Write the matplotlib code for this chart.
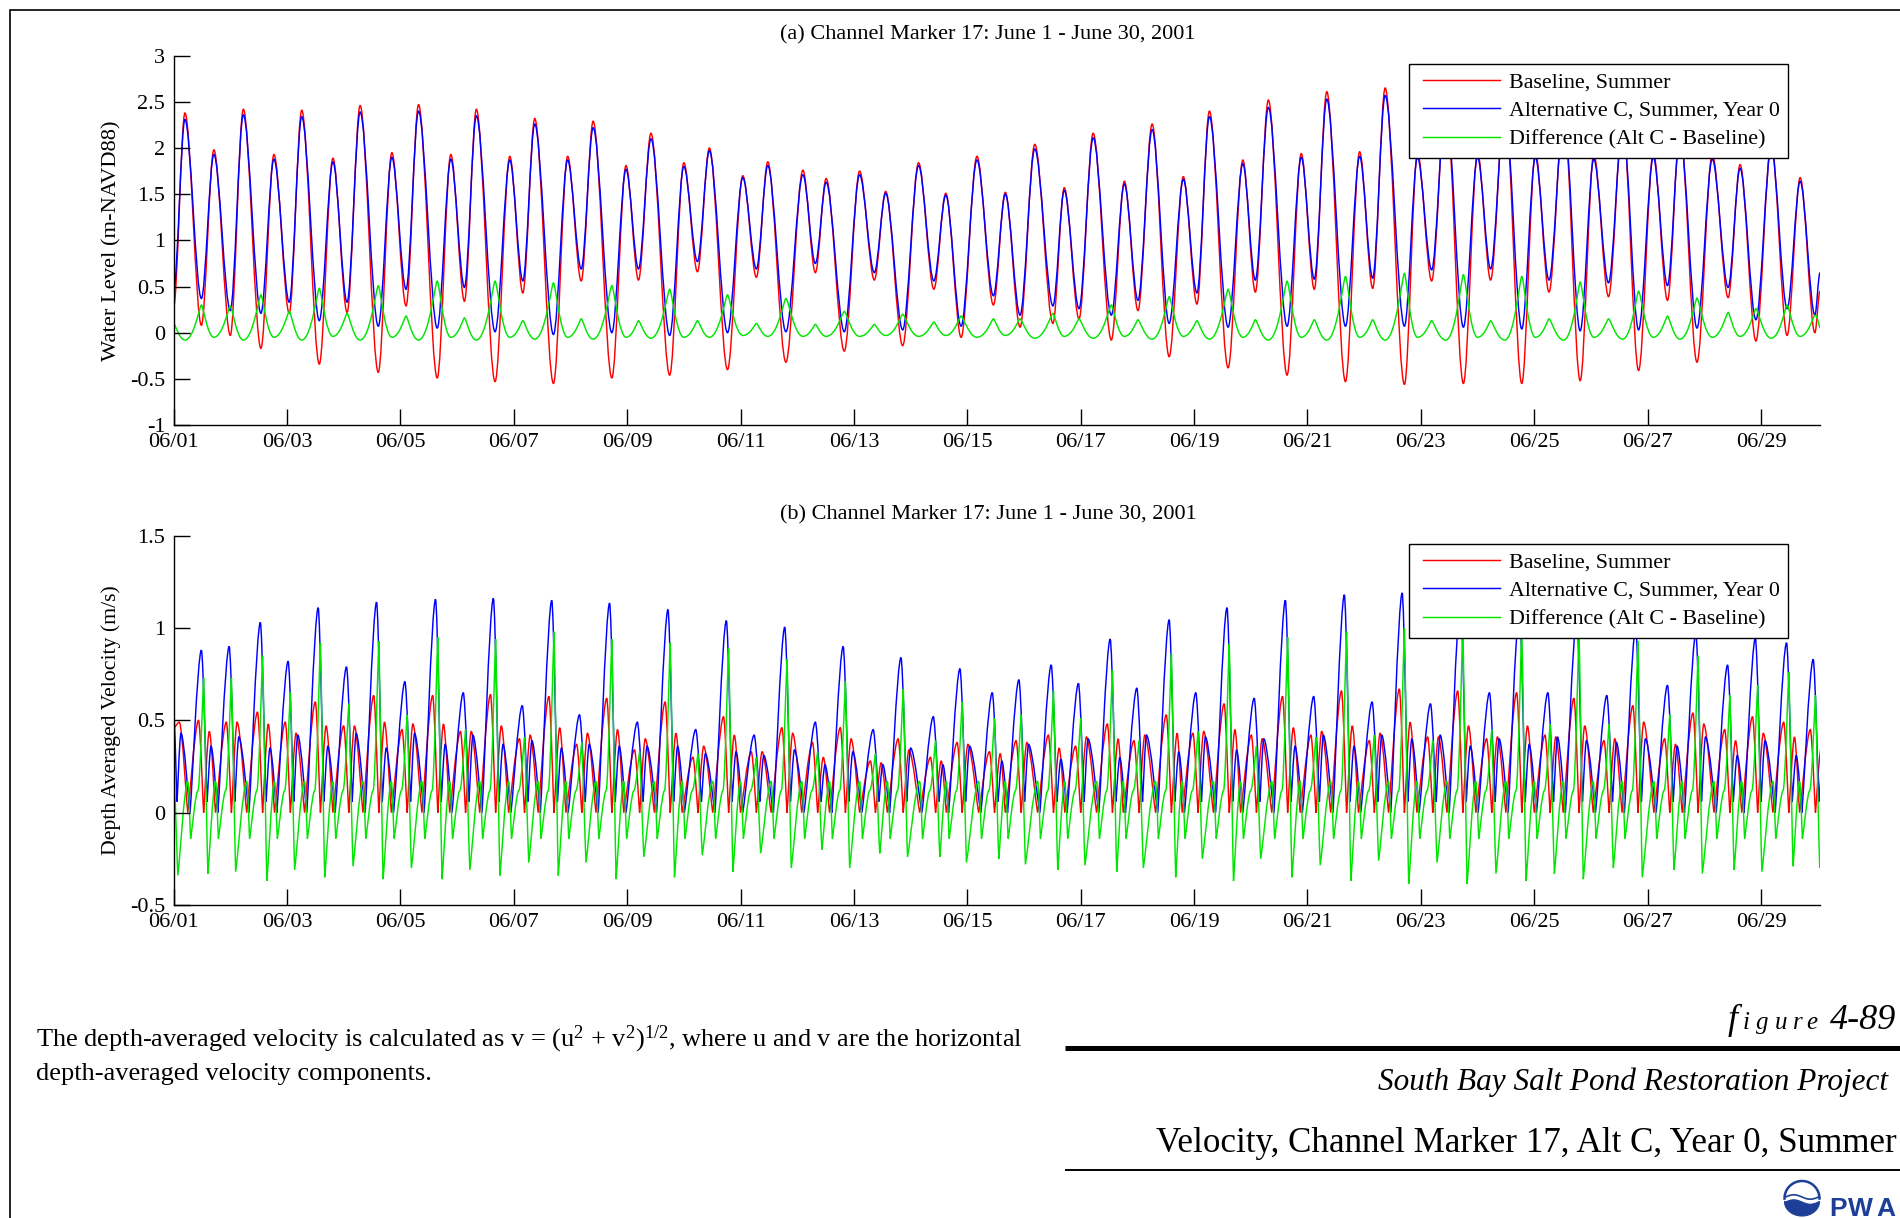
import numpy as np
import matplotlib
matplotlib.use("Agg")
import matplotlib.pyplot as plt
from matplotlib.path import Path
from matplotlib.patches import PathPatch, Polygon
from matplotlib.lines import Line2D
from matplotlib.legend_handler import HandlerLine2D

plt.rcParams['font.family'] = ['Liberation Serif', 'DejaVu Serif']
plt.rcParams['mathtext.fontset'] = 'custom'
plt.rcParams['mathtext.rm'] = 'Liberation Serif'
plt.rcParams['mathtext.it'] = 'Liberation Serif:italic'

# ---------------------------------------------------------------- data
# water level turning points (days after 06/01 00:00)
tide_t = [0.00, 0.20, 0.49, 0.71, 1.00, 1.23, 1.54, 1.77, 2.04, 2.26, 2.57, 2.81,
          3.06, 3.29, 3.61, 3.85, 4.10, 4.32, 4.65, 4.89, 5.13, 5.34, 5.67, 5.93,
          6.16, 6.37, 6.70, 6.95, 7.19, 7.40, 7.73, 7.98, 8.20, 8.42, 8.75, 9.00,
          9.24, 9.45, 9.77, 10.04, 10.28, 10.48, 10.80, 11.10, 11.32, 11.51, 11.83,
          12.10, 12.36, 12.56, 12.86, 13.14, 13.41, 13.62, 13.89, 14.17, 14.46,
          14.67, 14.93, 15.19, 15.51, 15.71, 15.97, 16.22, 16.54, 16.77, 17.01,
          17.26, 17.56, 17.81, 18.05, 18.27, 18.60, 18.86, 19.08, 19.31, 19.64,
          19.89, 20.12, 20.34, 20.67, 20.92, 21.15, 21.37, 21.71, 21.94, 22.19,
          22.44, 22.75, 23.00, 23.23, 23.48, 23.78, 24.02, 24.26, 24.52, 24.81,
          25.05, 25.31, 25.56, 25.84, 26.10, 26.35, 26.57, 26.87, 27.14, 27.42,
          27.63, 27.91, 28.18, 28.46, 28.69, 28.95, 29.04]
level_base = [0.28, 2.38, 0.08, 1.98, -0.03, 2.42, -0.17, 1.93, 0.21, 2.41, -0.34, 1.89,
              0.22, 2.46, -0.43, 1.95, 0.29, 2.47, -0.49, 1.93, 0.34, 2.42, -0.53, 1.91,
              0.43, 2.32, -0.55, 1.91, 0.56, 2.29, -0.49, 1.81, 0.57, 2.16, -0.46, 1.84,
              0.66, 2.00, -0.40, 1.70, 0.60, 1.85, -0.32, 1.76, 0.65, 1.67, -0.20,
              1.75, 0.57, 1.53, -0.14, 1.84, 0.47, 1.51, -0.05, 1.91, 0.30,
              1.52, 0.06, 2.04, 0.10, 1.57, 0.15, 2.16, -0.08, 1.64, 0.24,
              2.26, -0.26, 1.69, 0.31, 2.40, -0.38, 1.87, 0.44, 2.52, -0.46,
              1.94, 0.47, 2.61, -0.53, 1.96, 0.48, 2.65, -0.56, 1.95, 0.56,
              2.55, -0.55, 1.95, 0.57, 2.50, -0.55, 1.95, 0.44, 2.40, -0.52,
              1.93, 0.39, 2.30, -0.41, 1.95, 0.35, 2.20, -0.32, 1.93, 0.38,
              1.82, -0.09, 2.05, -0.03, 1.68, 0.00, 0.45]
level_altc = [0.45, 2.31, 0.37, 1.93, 0.24, 2.36, 0.21, 1.88, 0.33, 2.34, 0.13, 1.85,
              0.33, 2.39, 0.07, 1.90, 0.47, 2.40, 0.05, 1.88, 0.49, 2.35, 0.01, 1.87,
              0.56, 2.26, -0.02, 1.87, 0.69, 2.22, 0.00, 1.77, 0.69, 2.10, -0.03, 1.80,
              0.77, 1.97, 0.00, 1.68, 0.69, 1.81, 0.01, 1.71, 0.75, 1.63, 0.01,
              1.71, 0.65, 1.51, 0.03, 1.81, 0.56, 1.49, 0.07, 1.87, 0.40,
              1.50, 0.19, 1.99, 0.29, 1.54, 0.26, 2.11, 0.19, 1.61, 0.35,
              2.20, 0.10, 1.66, 0.43, 2.34, 0.06, 1.83, 0.57, 2.44, 0.07,
              1.90, 0.58, 2.53, 0.07, 1.91, 0.59, 2.57, 0.07, 1.90, 0.68,
              2.48, 0.06, 1.90, 0.69, 2.43, 0.04, 1.90, 0.57, 2.33, 0.02,
              1.88, 0.54, 2.24, 0.03, 1.90, 0.51, 2.15, 0.05, 1.88, 0.49,
              1.78, 0.14, 2.00, 0.26, 1.64, 0.19, 0.65]
level_diff = [0.10, -0.08, 0.30, -0.05, 0.29, -0.08, 0.41, -0.05, 0.23, -0.08, 0.48, -0.04,
              0.21, -0.08, 0.51, -0.05, 0.18, -0.08, 0.56, -0.05, 0.16, -0.08, 0.56, -0.05,
              0.13, -0.07, 0.54, -0.05, 0.15, -0.07, 0.51, -0.05, 0.13, -0.06, 0.47, -0.05,
              0.13, -0.05, 0.41, -0.03, 0.10, -0.04, 0.37, -0.04, 0.09, -0.04, 0.23,
              -0.04, 0.09, -0.03, 0.20, -0.04, 0.115, -0.03, 0.18, -0.05, 0.15,
              -0.03, 0.15, -0.06, 0.21, -0.04, 0.15, -0.06, 0.30, -0.04, 0.14,
              -0.07, 0.39, -0.04, 0.13, -0.07, 0.47, -0.05, 0.14, -0.08, 0.56,
              -0.05, 0.14, -0.08, 0.61, -0.05, 0.14, -0.08, 0.645, -0.05, 0.13,
              -0.08, 0.63, -0.05, 0.13, -0.08, 0.61, -0.05, 0.15, -0.08, 0.55,
              -0.05, 0.15, -0.07, 0.45, -0.05, 0.18, -0.07, 0.375, -0.05, 0.22,
              -0.04, 0.26, -0.06, 0.30, -0.04, 0.19, 0.05]

# velocity: one entry per tidal cycle, keyed on the main Alt C speed peak
vel_t = [-0.04, 0.49, 0.98, 1.53, 2.02, 2.55, 3.05, 3.58, 4.08, 4.62, 5.11, 5.64, 6.15,
         6.67, 7.16, 7.69, 8.18, 8.72, 9.21, 9.75, 10.24, 10.78, 11.32, 11.81, 12.34,
         12.83, 13.40, 13.87, 14.44, 14.91, 15.48, 15.96, 16.52, 16.99, 17.56, 18.03,
         18.58, 19.06, 19.61, 20.11, 20.65, 21.14, 21.67, 22.17, 22.70, 23.21, 23.74,
         24.24, 24.75, 25.28, 25.79, 26.35, 26.85, 27.41, 27.90, 28.45, 28.92]
altc_peak = [0.60, 0.88, 0.90, 1.03, 0.82, 1.11, 0.79, 1.14, 0.71, 1.155, 0.65, 1.16, 0.58,
             1.15, 0.53, 1.135, 0.49, 1.10, 0.45, 1.04, 0.42, 1.005, 0.49, 0.90, 0.45,
             0.84, 0.52, 0.78, 0.65, 0.72, 0.80, 0.70, 0.94, 0.675, 1.045, 0.65, 1.11,
             0.62, 1.15, 0.63, 1.18, 0.60, 1.19, 0.59, 1.15, 0.65, 1.10, 0.65, 1.05,
             0.635, 1.00, 0.69, 0.97, 0.80, 0.945, 0.92, 0.83]
altc_hump = [0.43, 0.36, 0.41, 0.35, 0.42, 0.36, 0.43, 0.35, 0.43, 0.37, 0.42, 0.37, 0.39,
             0.35, 0.37, 0.36, 0.36, 0.36, 0.32, 0.33, 0.31, 0.34, 0.26, 0.33, 0.26,
             0.35, 0.26, 0.36, 0.28, 0.37, 0.29, 0.40, 0.30, 0.42, 0.33, 0.41, 0.34,
             0.40, 0.36, 0.42, 0.36, 0.42, 0.40, 0.42, 0.36, 0.40, 0.37, 0.41, 0.39,
             0.38, 0.40, 0.36, 0.41, 0.31, 0.39, 0.31, 0.30]
base_peak = [0.45, 0.50, 0.49, 0.545, 0.49, 0.60, 0.47, 0.635, 0.45, 0.635, 0.44, 0.64,
             0.40, 0.63, 0.37, 0.62, 0.34, 0.60, 0.30, 0.52, 0.33, 0.46, 0.38, 0.46,
             0.28, 0.40, 0.30, 0.38, 0.33, 0.39, 0.42, 0.36, 0.48, 0.39, 0.53, 0.43,
             0.59, 0.42, 0.63, 0.42, 0.66, 0.39, 0.67, 0.41, 0.66, 0.40, 0.65, 0.42,
             0.62, 0.39, 0.58, 0.40, 0.54, 0.45, 0.52, 0.49, 0.45]
base_second = [0.49, 0.44, 0.49, 0.48, 0.43, 0.47, 0.47, 0.49, 0.48, 0.48, 0.44, 0.47,
               0.42, 0.46, 0.43, 0.45, 0.40, 0.43, 0.36, 0.42, 0.33, 0.43, 0.30, 0.40,
               0.27, 0.34, 0.28, 0.37, 0.32, 0.38, 0.35, 0.41, 0.40, 0.42, 0.43, 0.44,
               0.45, 0.40, 0.46, 0.44, 0.47, 0.43, 0.49, 0.41, 0.47, 0.41, 0.47, 0.41,
               0.47, 0.40, 0.49, 0.37, 0.48, 0.39, 0.43, 0.41, 0.35]
diff_peak = [0.20, 0.73, 0.73, 0.85, 0.65, 0.92, 0.59, 0.93, 0.53, 0.95, 0.45, 0.94, 0.41,
             0.98, 0.38, 0.94, 0.33, 0.92, 0.32, 0.89, 0.30, 0.83, 0.33, 0.71, 0.32,
             0.67, 0.39, 0.60, 0.51, 0.53, 0.66, 0.51, 0.77, 0.39, 0.86, 0.44, 0.915,
             0.36, 0.95, 0.41, 0.98, 0.42, 1.00, 0.39, 1.00, 0.45, 1.00, 0.48, 0.97,
             0.48, 0.93, 0.53, 0.85, 0.635, 0.69, 0.76, 0.635]
diff_dip = [-0.34, -0.33, -0.32, -0.37, -0.31, -0.35, -0.29, -0.36, -0.30, -0.36, -0.31,
            -0.34, -0.27, -0.34, -0.27, -0.36, -0.24, -0.35, -0.23, -0.32, -0.22, -0.30,
            -0.20, -0.30, -0.22, -0.24, -0.24, -0.27, -0.25, -0.28, -0.31, -0.285, -0.32,
            -0.30, -0.35, -0.25, -0.37, -0.25, -0.35, -0.285, -0.37, -0.26, -0.385,
            -0.27, -0.385, -0.33, -0.37, -0.33, -0.36, -0.30, -0.35, -0.31, -0.33,
            -0.31, -0.32, -0.29, -0.30]
vel_start = {'base': 0.46, 'altc': 0.54, 'diff': 0.19}

tick_days = list(range(0, 29, 2))
tick_labels = ['06/%02d' % (d + 1) for d in tick_days]
legend_labels = ['Baseline, Summer', 'Alternative C, Summer, Year 0',
                 'Difference (Alt C - Baseline)']
colors = {'base': '#ff0000', 'altc': '#0000ff', 'diff': '#00e600'}

# shape of one tidal cycle: (offset from the Alt C peak in days, value key, cusp?)
ALTC_SHAPE = [(-0.20, 'slack', True), (0.0, 'peak', False), (0.10, 'dip', True),
              (0.17, 'hump', False)]
BASE_SHAPE = [(-0.24, 'slack', True), (-0.05, 'peak', False), (0.04, 'slack', True),
              (0.14, 'second', False)]
DIFF_SHAPE = [(-0.24, 'bump', False), (-0.19, 'low', True), (-0.06, 'rise', False),
              (0.04, 'peak', True), (0.115, 'dip', True)]


def bezier_path(t, v, lead, trail):
    """Smooth curve through turning points with flat tangents at each point."""
    verts = [(t[0], v[0])]
    codes = [Path.MOVETO]
    for i in range(1, len(t)):
        dt = t[i] - t[i - 1]
        verts += [(t[i - 1] + lead[i] * dt, v[i - 1]),
                  (t[i] - trail[i] * dt, v[i]), (t[i], v[i])]
        codes += [Path.CURVE4] * 3
    return Path(verts, codes)


def draw_curve(ax, t, v, color, lead=None, trail=None):
    n = len(t)
    lead = np.full(n, 1 / 3) if lead is None else np.asarray(lead, float)
    trail = np.full(n, 1 / 3) if trail is None else np.asarray(trail, float)
    ax.add_patch(PathPatch(bezier_path(np.asarray(t, float), np.asarray(v, float),
                                       lead, trail),
                           facecolor='none', edgecolor=color, lw=1.05,
                           transform=ax.transData, clip_on=True))


def draw_cycles(ax, shape, values, start, color):
    pts = []
    for i, tc in enumerate(vel_t):
        for off, key, cusp in shape:
            val = values[key] if np.isscalar(values[key]) else values[key][i]
            pts.append((tc + off, val, cusp))
    pts = sorted(p for p in pts if 0.03 < p[0] <= 29.3)
    t = np.array([0.0] + [p[0] for p in pts])
    v = np.array([start] + [p[1] for p in pts])
    cusp = np.array([False] + [p[2] for p in pts])
    lead = np.where(np.roll(cusp, 1), 0.07, 1 / 3)
    trail = np.where(cusp, 0.07, 1 / 3)
    draw_curve(ax, t, v, color, lead, trail)


# ---------------------------------------------------------------- figure
W, H = 1900, 1218
fig = plt.figure(figsize=(W / 100, H / 100), dpi=100)


def frame(l, t, r, b):
    return [l / W, 1 - b / H, (r - l) / W, (b - t) / H]


ax1 = fig.add_axes(frame(173.6, 55.7, 1820, 425))
ax2 = fig.add_axes(frame(173.6, 535.7, 1820, 905))

for ax in (ax1, ax2):
    ax.set_xlim(0, 29.04)
    ax.set_xticks(tick_days)
    ax.set_xticklabels(tick_labels)
    for s in ('top', 'right'):
        ax.spines[s].set_visible(False)
    for s in ('left', 'bottom'):
        ax.spines[s].set_linewidth(1.0)
    ax.tick_params(direction='in', length=11.5, width=1.0, labelsize=16)
    ax.tick_params(axis='x', pad=6)
    ax.tick_params(axis='y', pad=6)

# (a) water level
ax1.set_ylim(-1, 3)
ax1.set_yticks([-1, -0.5, 0, 0.5, 1, 1.5, 2, 2.5, 3])
ax1.set_yticklabels(['-1', '-0.5', '0', '0.5', '1', '1.5', '2', '2.5', '3'])
draw_curve(ax1, tide_t, level_base, colors['base'])
draw_curve(ax1, tide_t, level_altc, colors['altc'])
rising = np.array(level_diff) > 0.0
draw_curve(ax1, tide_t, level_diff, colors['diff'],
           np.where(rising, 0.55, 0.14), np.where(rising, 0.1, 0.5))
ax1.set_ylabel('Water Level (m-NAVD88)', fontsize=16.2)
ax1.yaxis.set_label_coords(-0.0318, 0.5)

# (b) depth averaged velocity
ax2.set_ylim(-0.5, 1.5)
ax2.set_yticks([-0.5, 0, 0.5, 1, 1.5])
ax2.set_yticklabels(['-0.5', '0', '0.5', '1', '1.5'])
draw_cycles(ax2, BASE_SHAPE, {'slack': 0.0, 'peak': base_peak, 'second': base_second},
            vel_start['base'], colors['base'])
draw_cycles(ax2, ALTC_SHAPE, {'slack': 0.0, 'peak': altc_peak, 'dip': 0.06,
                              'hump': altc_hump}, vel_start['altc'], colors['altc'])
draw_cycles(ax2, DIFF_SHAPE, {'bump': 0.17, 'low': -0.14, 'rise': 0.12,
                              'peak': diff_peak, 'dip': diff_dip},
            vel_start['diff'], colors['diff'])
ax2.set_ylabel('Depth Averaged Velocity (m/s)', fontsize=15.7)
ax2.yaxis.set_label_coords(-0.0318, 0.5)

for ax in (ax1, ax2):
    handles = [Line2D([], [], color=colors[k], lw=1.05) for k in ('base', 'altc', 'diff')]
    leg = ax.legend(handles, legend_labels, loc='upper right',
                    bbox_to_anchor=(0.9806, 0.9775), borderaxespad=0, fontsize=15.8,
                    frameon=True, fancybox=False, framealpha=1, edgecolor='black',
                    numpoints=2, handler_map={Line2D: HandlerLine2D(marker_pad=0.27)},
                    handlelength=4.05, handletextpad=0.13, labelspacing=0.36,
                    borderpad=0.38)
    leg.get_frame().set_linewidth(1.0)

# ---------------------------------------------------------------- page furniture
ov = fig.add_axes([0, 0, 1, 1])
ov.set_xlim(0, W)
ov.set_ylim(H, 0)
ov.axis('off')

ov.plot([10, 10, W + 5], [H + 5, 10, 10], color='black', lw=1.2, solid_joinstyle='miter')

ov.text(988, 35, '(a) Channel Marker 17: June 1 - June 30, 2001', fontsize=16,
        ha='center', va='center')
ov.text(988, 514.5, '(b) Channel Marker 17: June 1 - June 30, 2001', fontsize=16,
        ha='center', va='center')

ov.text(36, 1046, 'The depth-averaged velocity is calculated as v = (u$^{2}$ + v$^{2}$)'
        '$^{1/2}$, where u and v are the horizontal', fontsize=19, ha='left',
        va='baseline')
ov.text(36, 1080, 'depth-averaged velocity components.', fontsize=19, ha='left',
        va='baseline')

ov.text(1728, 1029, 'f', fontsize=26, style='italic', ha='left', va='baseline')
for ch, x in zip('igure', [1743, 1756, 1774.5, 1793, 1806]):
    ov.text(x, 1029, ch, fontsize=18, style='italic', ha='left', va='baseline')
ov.text(1830, 1029, '4-89', fontsize=26, style='italic', ha='left', va='baseline')

ov.plot([1065, W + 5], [1048.2, 1048.2], color='black', lw=3.6, solid_capstyle='butt')
ov.text(1378, 1090, 'South Bay Salt Pond Restoration Project', fontsize=22.5,
        style='italic', ha='left', va='baseline')
ov.text(1156, 1151.5, 'Velocity, Channel Marker 17, Alt C, Year 0, Summer',
        fontsize=25.2, ha='left', va='baseline')
ov.plot([1065, W + 5], [1170, 1170], color='black', lw=1.4, solid_capstyle='butt')

# PWA mark
logo_blue = '#1d3f98'
cx, cy, r = 1802.0, 1198.5, 17.5
a = np.linspace(0, np.pi, 60)
ov.plot(cx + r * np.cos(a), cy - r * np.sin(a), color=logo_blue, lw=1.8)
xw = np.linspace(cx - r + 1, cx + r - 1, 40)
phase = (xw - xw[0]) / (xw[-1] - xw[0]) * 2 * np.pi
ov.plot(xw, cy - 1.5 - 2.2 * np.sin(phase), color=logo_blue, lw=1.2)
top = np.column_stack([xw, cy + 3.5 - 2.2 * np.sin(phase)])
ab = np.linspace(0, np.pi, 60)
bot = np.column_stack([cx + r * np.cos(ab), cy + 3.0 + (r - 3.0) * np.sin(ab)])
ov.add_patch(Polygon(np.vstack([top, bot]), closed=True, facecolor=logo_blue,
                     edgecolor=logo_blue, lw=0.8))
for ch, x in zip('PWA', [1829, 1848, 1876]):
    ov.text(x, 1216.5, ch, fontsize=19, fontweight='bold', family='Liberation Sans',
            color=logo_blue, ha='left', va='baseline')

fig.savefig('out.png', dpi=100)
